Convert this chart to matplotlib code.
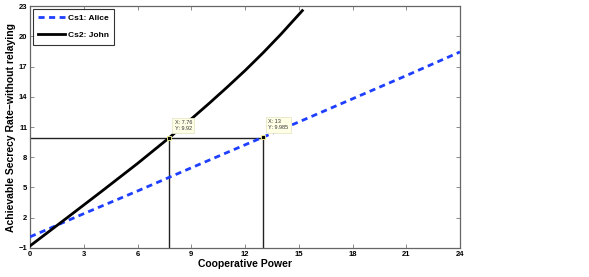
import matplotlib
matplotlib.use("Agg")
import matplotlib.pyplot as plt

plt.rcParams["font.family"] = ["Liberation Sans", "DejaVu Sans"]

# Cs1: Alice (blue dashed)
alice_x = [0, 3, 6, 9, 12, 13, 15, 18, 21, 24]
alice_y = [0.1, 2.4, 4.65, 6.95, 9.23, 9.985, 11.5, 13.8, 16.1, 18.45]

# Cs2: John (black solid)
john_x = [0, 2, 4, 6, 7.76, 9, 10, 11, 12, 13, 14, 15.2]
john_y = [-0.8, 1.9, 4.62, 7.38, 9.92, 11.8, 13.35, 14.95, 16.6, 18.35, 20.2, 22.55]

# data tips
tip_x = [7.76, 13]
tip_y = [9.92, 9.985]
tip_labels = ["X: 7.76\nY: 9.92", "X: 13\nY: 9.985"]

xticks = [0, 3, 6, 9, 12, 15, 18, 21, 24]
yticks = [-1, 2, 5, 8, 11, 14, 17, 20, 23]

fig = plt.figure(figsize=(5.89, 2.77), dpi=100)
ax = fig.add_axes([0.051, 0.105, 0.730, 0.873])

ax.plot(alice_x, alice_y, color="#1f3fff", lw=2, ls=(0, (2.2, 1.6)), label="Cs1: Alice", zorder=3)
ax.plot(john_x, john_y, color="black", lw=2, label="Cs2: John", zorder=3)

# guide lines to the data tips
ax.plot([0, tip_x[1]], [9.95, 9.95], color="#222222", lw=1, zorder=2)
for tx, ty in zip(tip_x, tip_y):
    ax.plot([tx, tx], [-1, ty], color="#222222", lw=1, zorder=2)
    ax.plot(tx, ty, marker="s", ms=3, color="black", mec="#ffff99", mew=0.6, zorder=5)

for tx, ty, lab in zip(tip_x, tip_y, tip_labels):
    ax.annotate(lab, (tx, ty), xytext=(4, 5), textcoords="offset points",
                fontsize=4, color="#333333", va="bottom", ha="left", zorder=6,
                bbox=dict(boxstyle="square,pad=0.4", fc="#ffffe6", ec="#e6e6c8", lw=0.6))

ax.set_xlim(0, 24)
ax.set_ylim(-1, 23)
ax.set_xticks(xticks)
ax.set_yticks(yticks)
ax.set_xticklabels([str(t) for t in xticks], fontsize=5.5, fontweight="bold")
ax.set_yticklabels(["\u22121" if t == -1 else str(t) for t in yticks], fontsize=5.5, fontweight="bold")
ax.tick_params(direction="in", length=3, width=0.6, top=True, right=True, pad=2, color="#777777")
for s in ax.spines.values():
    s.set_color("#666666")
    s.set_linewidth(0.9)

ax.set_xlabel("Cooperative Power", fontsize=7.5, fontweight="bold", labelpad=1)
ax.set_ylabel("Achievable Secrecy Rate\u2013without relaying", fontsize=7.5, fontweight="bold", labelpad=2)

leg = ax.legend(loc="upper left", prop={"weight": "bold", "size": 6},
                frameon=True, fancybox=False, edgecolor="black", handlelength=3.2,
                borderpad=0.7, labelspacing=1.1, handletextpad=0.3, borderaxespad=0.3)
leg.get_frame().set_linewidth(0.8)

fig.savefig("out.png", dpi=100)
